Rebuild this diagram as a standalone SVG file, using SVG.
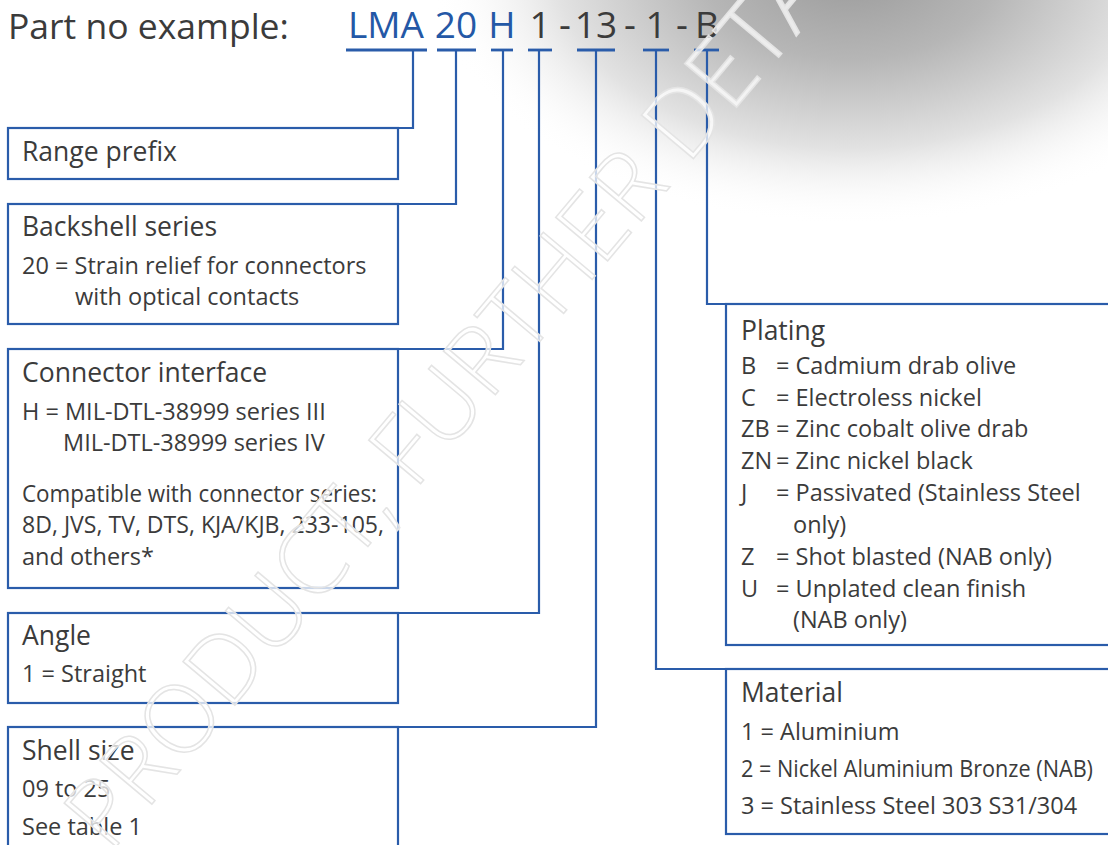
<svg xmlns="http://www.w3.org/2000/svg" width="1108" height="845" viewBox="0 0 1108 845">
<defs>
<radialGradient id="shade" gradientUnits="userSpaceOnUse" cx="850" cy="-30" r="300" gradientTransform="translate(850,-30) scale(1.4,0.85) translate(-850,30)">
<stop offset="0" stop-color="#9a9a9a"/>
<stop offset="0.35" stop-color="#b6b6b6"/>
<stop offset="0.7" stop-color="#e2e2e2"/>
<stop offset="1" stop-color="#ffffff" stop-opacity="0"/>
</radialGradient>
<style>
.box{fill:none;stroke:#2a5caa;stroke-width:2.2}
.con{fill:none;stroke:#2a5caa;stroke-width:2.2}
.ul{stroke:#2a5caa;stroke-width:2.8}
.h{font-family:"Open Sans","Liberation Sans",sans-serif;font-size:26.5px;fill:#3b3b3b}
.t{font-family:"Open Sans","Liberation Sans",sans-serif;font-size:23.5px;fill:#3b3b3b}
.pn{font-family:"Open Sans","Liberation Sans",sans-serif;font-size:37px;text-anchor:middle}
.blue{fill:#2458a6}
.dark{fill:#3b3b3b}
.wm{font-family:"Open Sans","Liberation Sans",sans-serif;font-size:95px;font-weight:300;fill:#ffffff;fill-opacity:0.75;stroke:#e4e4e4;stroke-width:1.5}
</style>
</defs>
<rect width="1108" height="845" fill="#ffffff"/>
<rect width="1108" height="845" fill="url(#shade)"/>

<g id="title">
<text x="8" y="39" style="font-family:'Open Sans','Liberation Sans',sans-serif;font-size:35.5px;fill:#3b3b3b">Part no example:</text>
<text class="pn blue" x="386" y="38">LMA</text>
<text class="pn blue" x="456" y="38">20</text>
<text class="pn blue" x="502" y="38">H</text>
<text class="pn dark" x="540" y="38">1</text>
<text class="pn dark" x="565" y="38">-</text>
<text class="pn dark" x="596" y="38">13</text>
<text class="pn dark" x="630" y="38">-</text>
<text class="pn dark" x="656" y="38">1</text>
<text class="pn dark" x="682" y="38">-</text>
<text class="pn dark" x="707" y="38">B</text>
</g>

<g id="connectors">
<line class="ul" x1="346" y1="50" x2="427" y2="50"/>
<line class="ul" x1="437" y1="50" x2="476" y2="50"/>
<line class="ul" x1="491" y1="50" x2="513" y2="50"/>
<line class="ul" x1="528" y1="50" x2="552" y2="50"/>
<line class="ul" x1="577" y1="50" x2="615" y2="50"/>
<line class="ul" x1="643" y1="50" x2="669" y2="50"/>
<line class="ul" x1="694" y1="50" x2="719" y2="50"/>
<path class="con" d="M413,50 V128 H398"/>
<path class="con" d="M456,50 V204 H398"/>
<path class="con" d="M503,50 V349 H398"/>
<path class="con" d="M539,50 V613 H398"/>
<path class="con" d="M596,50 V727 H398"/>
<path class="con" d="M656,50 V669 H726"/>
<path class="con" d="M707,50 V304 H726"/>
</g>

<g id="range-prefix">
<rect class="box" x="8" y="128" width="390" height="51"/>
<text class="h" x="22" y="161">Range prefix</text>
</g>

<g id="backshell-series">
<rect class="box" x="8" y="204" width="390" height="120"/>
<text class="h" x="22" y="236">Backshell series</text>
<text class="t" x="22" y="274">20 = Strain relief for connectors</text>
<text class="t" x="75" y="305">with optical contacts</text>
</g>

<g id="connector-interface">
<rect class="box" x="8" y="349" width="390" height="239"/>
<text class="h" x="22" y="382">Connector interface</text>
<text class="t" x="22" y="420">H = MIL-DTL-38999 series III</text>
<text class="t" x="63" y="451">MIL-DTL-38999 series IV</text>
<text class="t" x="22" y="502" textLength="355" lengthAdjust="spacingAndGlyphs">Compatible with connector series:</text>
<text class="t" x="22" y="533" textLength="362" lengthAdjust="spacingAndGlyphs">8D, JVS, TV, DTS, KJA/KJB, 233-105,</text>
<text class="t" x="22" y="565">and others*</text>
</g>

<g id="angle">
<rect class="box" x="8" y="613" width="390" height="90"/>
<text class="h" x="22" y="645">Angle</text>
<text class="t" x="22" y="682">1 = Straight</text>
</g>

<g id="shell-size">
<rect class="box" x="8" y="727" width="390" height="140"/>
<text class="h" x="22" y="760">Shell size</text>
<text class="t" x="22" y="797">09 to 25</text>
<text class="t" x="22" y="835">See table 1</text>
</g>

<g id="plating">
<rect class="box" x="726" y="304" width="400" height="341"/>
<text class="h" x="741" y="340">Plating</text>
<text class="t" x="741" y="374">B</text><text class="t" x="776" y="374">= Cadmium drab olive</text>
<text class="t" x="741" y="406">C</text><text class="t" x="776" y="406">= Electroless nickel</text>
<text class="t" x="741" y="437">ZB</text><text class="t" x="776" y="437">= Zinc cobalt olive drab</text>
<text class="t" x="741" y="469">ZN</text><text class="t" x="776" y="469">= Zinc nickel black</text>
<text class="t" x="741" y="501">J</text><text class="t" x="776" y="501">= Passivated (Stainless Steel</text>
<text class="t" x="793" y="533">only)</text>
<text class="t" x="741" y="565">Z</text><text class="t" x="776" y="565">= Shot blasted (NAB only)</text>
<text class="t" x="741" y="597">U</text><text class="t" x="776" y="597">= Unplated clean finish</text>
<text class="t" x="793" y="628">(NAB only)</text>
</g>

<g id="material">
<rect class="box" x="726" y="669" width="400" height="165"/>
<text class="h" x="741" y="702">Material</text>
<text class="t" x="741" y="740">1 = Aluminium</text>
<text class="t" x="741" y="777" textLength="352" lengthAdjust="spacingAndGlyphs">2 = Nickel Aluminium Bronze (NAB)</text>
<text class="t" x="741" y="814">3 = Stainless Steel 303 S31/304</text>
</g>

<g id="watermark">
<text class="wm" transform="translate(110,854) rotate(-50)">PRODUCT, FURTHER DETA</text>
</g>
</svg>
